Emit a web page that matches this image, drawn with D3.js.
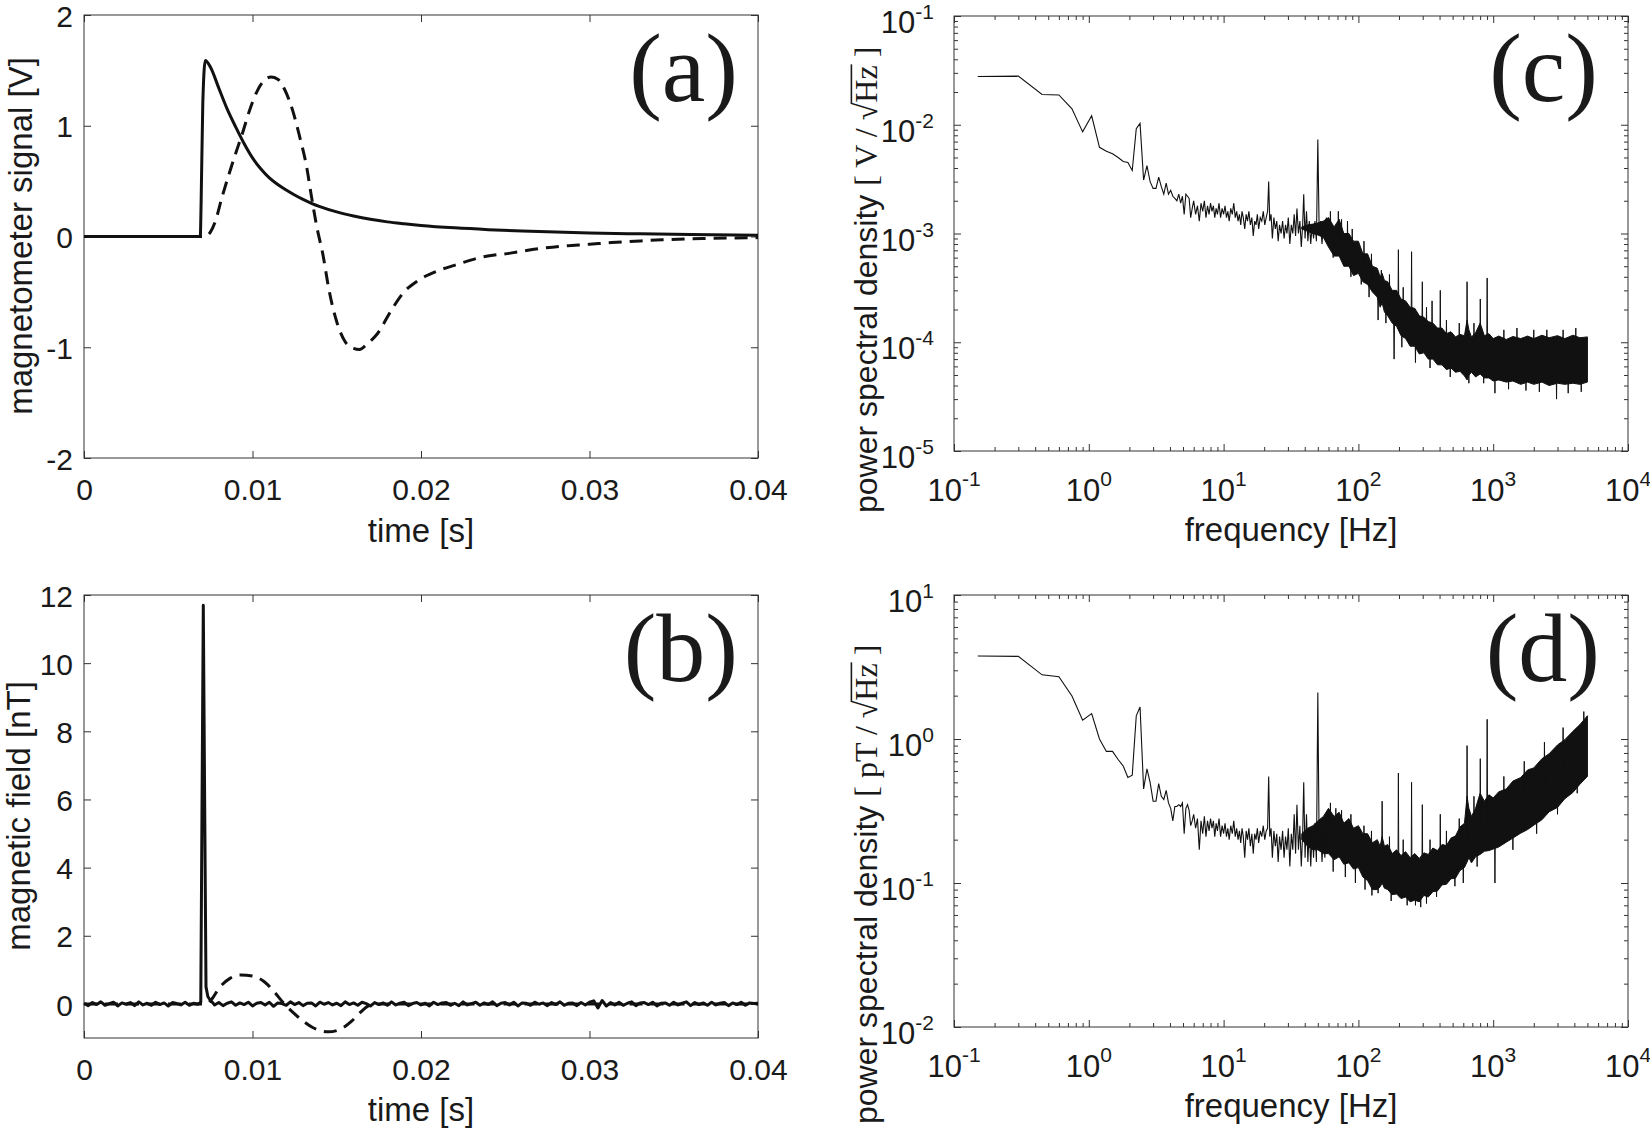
<!DOCTYPE html>
<html><head><meta charset="utf-8">
<script src="https://cdn.jsdelivr.net/npm/d3@7"></script>
<style>body{margin:0;background:#fff}</style>
</head><body>
<svg id="fig" width="1650" height="1132" xmlns="http://www.w3.org/2000/svg"></svg>
<script>
// ---------------- DATA ----------------
// Panel (a): magnetometer signal [V] vs time (ms)
const aTimeMs = [0,6.9,6.95,7.05,7.2,7.5,8.0,8.5,9.0,9.5,10.0,10.5,11.0,11.5,12.0,12.5,13.0,13.5,14,15,16,17,18,19,20,22,24,26,28,30,33,36,40];
const aSolid  = [0,0,0.3,1.2,1.59,1.53,1.34,1.15,0.99,0.84,0.71,0.61,0.53,0.47,0.42,0.375,0.335,0.30,0.27,0.222,0.185,0.155,0.132,0.115,0.1,0.078,0.062,0.05,0.04,0.032,0.024,0.017,0.011];
const aDashTimeMs = [0,7.2,7.5,7.8,8.2,8.6,9.0,9.4,9.85,10.3,10.7,11.1,11.5,11.9,12.4,12.8,13.2,13.5,13.8,14.2,14.5,15.0,15.5,16.0,16.35,16.8,17.4,18.3,19.0,19.8,21,22.2,23.5,25.3,27,28.3,30,31.3,33,34.3,37,40];
const aDash = [0,0,0.04,0.14,0.36,0.56,0.75,0.93,1.15,1.32,1.41,1.44,1.42,1.33,1.13,0.9,0.64,0.36,0.1,-0.18,-0.45,-0.77,-0.95,-1.01,-1.02,-0.97,-0.88,-0.65,-0.5,-0.4,-0.31,-0.25,-0.19,-0.15,-0.11,-0.088,-0.07,-0.055,-0.04,-0.03,-0.018,-0.01];

// Panel (b): magnetic field [nT] vs time (ms)
const bTimeMs = [0,0.25,0.5,0.75,1,1.25,1.5,1.75,2,2.25,2.5,2.75,3,3.25,3.5,3.75,4,4.25,4.5,4.75,5,5.25,5.5,5.75,6,6.25,6.5,6.75,
 6.93,7.0,7.08,7.16,7.24,7.35,7.5,7.65,
 7.75,8,8.25,8.5,8.75,9,9.25,9.5,9.75,10,10.25,10.5,10.75,11,11.25,11.5,11.75,12,12.25,12.5,12.75,13,13.25,13.5,13.75,14,14.25,14.5,14.75,15,15.25,15.5,15.75,16,16.25,16.5,16.75,17,17.25,17.5,17.75,18,18.25,18.5,18.75,19,19.25,19.5,19.75,20,20.25,20.5,20.75,21,21.25,21.5,21.75,22,22.25,22.5,22.75,23,23.25,23.5,23.75,24,24.25,24.5,24.75,25,25.25,25.5,25.75,26,26.25,26.5,26.75,27,27.25,27.5,27.75,28,28.25,28.5,28.75,29,29.25,29.5,29.75,30,30.25,30.5,30.75,31,31.25,31.5,31.75,32,32.25,32.5,32.75,33,33.25,33.5,33.75,34,34.25,34.5,34.75,35,35.25,35.5,35.75,36,36.25,36.5,36.75,37,37.25,37.5,37.75,38,38.25,38.5,38.75,39,39.25,39.5,39.75,40];
const bSolid = [0.02,-0.05,0.04,-0.02,0.06,-0.04,0.01,0.05,-0.06,0.03,-0.01,0.04,-0.05,0.06,-0.03,0.02,-0.04,0.05,-0.02,0.03,-0.06,0.04,0.01,-0.03,0.05,-0.04,0.02,-0.01,
 0.05,5.5,11.7,6.0,0.5,0.22,0.1,0.03,
 -0.03,0.04,-0.05,0.02,0.06,-0.04,0.03,-0.02,0.05,-0.06,
 0.02,0.04,-0.03,0.05,-0.07,0.03,0.01,-0.04,0.06,-0.02,
 0.04,-0.05,0.02,0.03,-0.06,0.05,-0.01,0.04,-0.03,0.02,
 -0.05,0.06,-0.02,0.03,-0.04,0.05,0.01,-0.06,0.04,-0.02,
 0.03,-0.04,0.06,-0.03,0.02,0.05,-0.05,0.01,0.04,-0.03,
 0.02,-0.06,0.05,-0.02,0.03,0.04,-0.04,0.02,-0.05,0.06,
 -0.03,0.01,0.05,-0.04,0.03,-0.02,0.06,-0.05,0.02,0.04,
 -0.03,0.05,-0.06,0.03,0.02,-0.04,0.05,-0.01,0.03,-0.05,
 0.04,-0.02,0.06,-0.04,0.02,0.03,-0.05,0.04,-0.03,0.05,
 0.09,-0.12,0.1,-0.06,0.04,-0.03,0.05,-0.04,0.02,0.06,
 -0.05,0.03,0.04,-0.02,0.05,-0.06,0.02,0.03,-0.04,0.05,
 -0.03,0.02,0.06,-0.05,0.04,-0.02,0.03,-0.04,0.05,-0.03,
 0.02,0.04,-0.05,0.03,-0.02,0.05,-0.04,0.03,0.01,0.02];
const bDashTimeMs = [0,7.3,7.6,8.0,8.66,9.3,10.0,10.7,11.3,11.8,12.4,13.0,13.6,14.5,15.3,15.9,16.4,16.9,17.3,40];
const bDash = [0,0,0.15,0.45,0.75,0.85,0.82,0.65,0.35,0.05,-0.25,-0.5,-0.7,-0.82,-0.72,-0.5,-0.25,-0.05,0,0];

// Panels (c),(d): spectra. Low-frequency bins (Hz)
const specLowFreq = [0.15,0.3,0.45,0.6,0.75,0.9,1.05,1.2,1.35,1.5,1.65,1.8,1.95,2.1,2.25,2.4,2.55,2.7,2.85,3.0,3.15,3.3,3.45,3.6,3.75,3.9,4.05,4.2,4.35,4.5,4.65,4.8,4.95,5.1,5.25,5.4,5.55,5.7,5.85];
const cLowVal = [0.0278,0.028,0.019,0.0188,0.014,0.0086,0.0121,0.0062,0.0057,0.0054,0.005,0.0046,0.0045,0.0038,0.0092,0.0103,0.0031,0.0042,0.003,0.0026,0.0026,0.0033,0.0027,0.0023,0.0029,0.0023,0.0025,0.0022,0.0021,0.002,0.0023,0.0019,0.0022,0.0015,0.0023,0.0022,0.0021,0.0014,0.0017];
const dLowVal = [3.77,3.75,2.79,2.71,1.99,1.35,1.5,1.0,0.82,0.82,0.72,0.65,0.54,0.56,1.45,1.67,0.45,0.62,0.5,0.37,0.37,0.49,0.4,0.38,0.44,0.36,0.33,0.27,0.34,0.34,0.35,0.34,0.36,0.22,0.33,0.35,0.32,0.25,0.27];
// Mid-frequency samples (Hz)
const specMidFreq = [6.0,6.2,6.4,6.6,6.8,7.0,7.2,7.4,7.6,7.8,8.0,8.2,8.4,8.6,8.8,9.0,9.25,9.5,9.75,10.0,10.25,10.5,10.75,11.0,11.3,11.6,11.9,12.2,12.5,12.8,13.1,13.4,13.7,14.0,14.35,14.7,15.05,15.4,15.8,16.2,16.6,17.0,17.4,17.8,18.2,18.7,19.2,19.7,20.2,20.7,21.2,21.6,22.0,22.5,23.0,23.6,24.2,24.8,25.4,26.0,26.7,27.4,28.1,28.8,29.5,30.2,31.0,31.8,32.6,33.4,34.2,35.0,35.9,36.8,37.7,38.6,39.3,40.2,41.2,42.2,43.2,44.3,45.4,46.5,47.6,48.8,50.0,51.2,52.4,53.7,55.0,56.4,57.8,59.2,60.6];
const cMidVal = [2.0e-3,1.5e-3,1.8e-3,1.3e-3,1.9e-3,1.6e-3,2.0e-3,1.4e-3,1.8e-3,1.5e-3,
 1.9e-3,1.6e-3,1.8e-3,1.4e-3,1.7e-3,1.5e-3,1.9e-3,1.4e-3,1.7e-3,1.5e-3,
 1.8e-3,1.4e-3,1.6e-3,1.3e-3,1.7e-3,1.5e-3,1.9e-3,1.4e-3,1.6e-3,1.3e-3,
 1.5e-3,1.2e-3,1.6e-3,1.4e-3,1.1e-3,1.5e-3,1.3e-3,1.6e-3,1.2e-3,1.4e-3,
 0.95e-3,1.3e-3,1.2e-3,1.5e-3,1.1e-3,1.4e-3,1.3e-3,1.6e-3,1.2e-3,1.4e-3,
 1.6e-3,3.0e-3,1.3e-3,1.5e-3,0.9e-3,1.4e-3,1.1e-3,1.3e-3,0.85e-3,1.2e-3,
 1.0e-3,1.3e-3,0.9e-3,1.2e-3,1.0e-3,1.4e-3,0.8e-3,1.2e-3,1.0e-3,1.5e-3,
 0.95e-3,1.7e-3,1.0e-3,1.3e-3,0.75e-3,1.2e-3,2.3e-3,0.9e-3,1.6e-3,0.85e-3,
 1.3e-3,0.8e-3,1.2e-3,0.9e-3,1.3e-3,0.85e-3,7.3e-3,1.0e-3,1.3e-3,0.8e-3,
 1.2e-3,0.9e-3,1.4e-3,1.0e-3,1.3e-3];
const dMidVal = [0.30,0.24,0.28,0.17,0.27,0.22,0.29,0.21,0.27,0.23,
 0.28,0.24,0.27,0.21,0.26,0.23,0.28,0.21,0.25,0.22,
 0.26,0.21,0.24,0.20,0.25,0.22,0.27,0.21,0.24,0.20,
 0.23,0.19,0.24,0.21,0.15,0.23,0.20,0.24,0.18,0.22,
 0.16,0.22,0.20,0.24,0.19,0.23,0.21,0.25,0.20,0.23,
 0.24,0.55,0.21,0.24,0.15,0.23,0.18,0.22,0.14,0.21,
 0.17,0.23,0.15,0.21,0.17,0.24,0.13,0.22,0.17,0.30,
 0.16,0.35,0.17,0.25,0.13,0.22,0.50,0.15,0.30,0.14,
 0.24,0.13,0.23,0.15,0.26,0.14,2.10,0.17,0.26,0.14,
 0.22,0.15,0.28,0.16,0.27];
// High-frequency dense band: envelope (Hz)
const bandFreq = [38,42,46,50,55,60,66,72,78,85,92,100,108,117,127,138,145,150,156,165,178,192,207,224,242,262,283,306,330,357,386,417,450,486,525,567,612,640,660,690,740,800,860,930,1000,1100,1250,1400,1600,1800,2000,2300,2600,3000,3400,3900,4400,5000];
const cBandHi = [1.15e-3,1.2e-3,1.22e-3,1.25e-3,1.3e-3,
 14e-4,11.5e-4,13.5e-4,10e-4,10e-4,8.5e-4,8.5e-4,6.5e-4,6.5e-4,5e-4,
 4.8e-4,4.0e-4,4.3e-4,3.7e-4,3.6e-4,3.0e-4,3.0e-4,2.5e-4,2.4e-4,2.1e-4,
 2.05e-4,1.75e-4,1.7e-4,1.55e-4,1.5e-4,1.35e-4,1.35e-4,1.2e-4,1.25e-4,1.12e-4,
 1.18e-4,1.15e-4,1.6e-4,1.3e-4,1.12e-4,1.22e-4,1.5e-4,1.15e-4,1.2e-4,1.08e-4,
 1.14e-4,1.06e-4,1.13e-4,1.08e-4,1.14e-4,1.08e-4,1.16e-4,1.1e-4,1.15e-4,1.08e-4,
 1.16e-4,1.1e-4,1.12e-4];
const cBandLo = [1.1e-3,1.05e-3,1.0e-3,0.97e-3,0.92e-3,
 7.5e-4,6.2e-4,6.2e-4,5.0e-4,5.0e-4,4.1e-4,4.3e-4,3.6e-4,3.4e-4,2.9e-4,
 2.6e-4,2.1e-4,2.3e-4,1.9e-4,1.75e-4,1.5e-4,1.4e-4,1.15e-4,1.08e-4,0.92e-4,
 0.92e-4,0.78e-4,0.8e-4,0.7e-4,0.7e-4,0.62e-4,0.62e-4,0.56e-4,0.58e-4,0.53e-4,
 0.54e-4,0.49e-4,0.45e-4,0.5e-4,0.53e-4,0.48e-4,0.51e-4,0.47e-4,0.47e-4,0.44e-4,
 0.45e-4,0.43e-4,0.44e-4,0.41e-4,0.43e-4,0.41e-4,0.43e-4,0.4e-4,0.42e-4,0.41e-4,
 0.42e-4,0.41e-4,0.43e-4];
const dBandHi = [0.22,0.24,0.25,0.27,0.29,
 0.33,0.29,0.31,0.26,0.28,0.24,0.25,0.22,0.22,0.19,
 0.2,0.18,0.21,0.18,0.185,0.16,0.17,0.155,0.165,0.15,
 0.16,0.148,0.162,0.158,0.175,0.168,0.185,0.182,0.205,0.212,
 0.245,0.26,0.4,0.33,0.29,0.33,0.42,0.37,0.41,0.39,
 0.43,0.45,0.51,0.54,0.61,0.63,0.73,0.79,0.91,0.99,
 1.13,1.26,1.45];
const dBandLo = [0.2,0.18,0.17,0.17,0.16,
 0.16,0.145,0.152,0.135,0.138,0.125,0.128,0.11,0.104,0.09,
 0.09,0.094,0.1,0.092,0.09,0.083,0.084,0.078,0.08,0.074,
 0.076,0.074,0.082,0.08,0.087,0.088,0.097,0.098,0.107,0.108,
 0.122,0.128,0.14,0.15,0.138,0.152,0.158,0.166,0.168,0.172,
 0.178,0.192,0.205,0.222,0.235,0.252,0.275,0.312,0.335,0.385,
 0.425,0.485,0.55];
// Narrow spikes / dips leaving the band (freq, extreme value, value inside band)
const cSpikeFreq = [71,83,140,148,184,198,248,265,298,352,405,640,660,802,902,1030,1500,1750,2500,2950,4100,4500,
 62,65,75,88,90,105,110,120,125,160,170,210,215,320,340,450,480,560,720,850,1200,1300,2000,2200,3300,3600];
const cSpikeEnd  = [1.6e-3,1.3e-3,1.6e-4,4.6e-4,7e-5,7.1e-4,6.8e-4,6.5e-5,3.6e-4,2.4e-4,3.0e-4,3.6e-4,4.2e-5,2.5e-4,3.9e-4,3.4e-5,1.35e-4,3.6e-5,1.3e-4,3.0e-5,1.35e-4,3.5e-5,
 1.6e-3,6.0e-4,1.35e-3,4.0e-4,1.1e-3,3.4e-4,8.5e-4,2.6e-4,6.5e-4,1.5e-4,4.2e-4,9e-5,3.2e-4,2.1e-4,5.8e-5,1.6e-4,4.8e-5,1.5e-4,1.5e-4,4.2e-5,1.3e-4,3.7e-5,1.3e-4,3.5e-5,1.3e-4,3.4e-5];
const cSpikeBase = [9e-4,7e-4,3e-4,3e-4,1.5e-4,2e-4,1.6e-4,1.3e-4,1.2e-4,1.0e-4,9e-5,9e-5,8e-5,8e-5,8e-5,7e-5,7e-5,7e-5,7e-5,7e-5,7e-5,7e-5,
 1.0e-3,1.0e-3,8e-4,7e-4,6e-4,5.5e-4,5e-4,4.5e-4,4e-4,2.6e-4,2.4e-4,1.7e-4,1.6e-4,1.1e-4,1.0e-4,8e-5,8e-5,8e-5,8e-5,7e-5,7e-5,7e-5,7e-5,7e-5,7e-5,7e-5];
const dSpikeFreq = [140,150,198,248,265,298,320,405,640,802,902,1030,
 62,65,68,75,80,88,95,110,112,125,126,170,175,215,230,290,340,380,450,520,560,600,720,760,1200,1400,1700,2100,2400,3000,3300,4200,4700];
const dSpikeEnd  = [0.085,0.37,0.58,0.5,0.07,0.35,0.072,0.3,0.9,0.73,1.37,0.1,
 0.36,0.12,0.33,0.32,0.11,0.3,0.1,0.25,0.09,0.23,0.082,0.21,0.075,0.2,0.07,0.068,0.2,0.08,0.23,0.095,0.28,0.1,0.4,0.13,0.55,0.17,0.7,0.22,0.95,0.3,1.2,0.42,1.55];
const dSpikeBase = [0.12,0.15,0.12,0.11,0.1,0.11,0.11,0.13,0.2,0.25,0.25,0.25,
 0.22,0.22,0.2,0.2,0.19,0.18,0.17,0.15,0.15,0.14,0.14,0.12,0.12,0.11,0.11,0.11,0.12,0.12,0.14,0.15,0.16,0.17,0.2,0.2,0.3,0.3,0.35,0.35,0.5,0.5,0.6,0.7,0.9];

// Tick labels
const timeTicks = [0,0.01,0.02,0.03,0.04];
const timeTickLabels = ['0','0.01','0.02','0.03','0.04'];
const aYTicks = [-2,-1,0,1,2];
const aYTickLabels = ['-2','-1','0','1','2'];
const bYTicks = [0,2,4,6,8,10,12];
const bYTickLabels = ['0','2','4','6','8','10','12'];
const freqMajor = [0.1,1,10,100,1000,10000];
const freqExp = ['-1','0','1','2','3','4'];
const cYMajor = [1e-5,1e-4,1e-3,1e-2,1e-1];
const cYExp = ['-5','-4','-3','-2','-1'];
const dYMajor = [1e-2,1e-1,1,10];
const dYExp = ['-2','-1','0','1'];

// ---------------- DRAWING ----------------
const SANS = "'Liberation Sans', Arial, Helvetica, sans-serif";
const SERIF = "'Liberation Serif', 'Times New Roman', Times, serif";
const INK = '#111';
const TXT = '#1a1a1a';
const AX = '#333';
const svg = d3.select('#fig');
svg.append('rect').attr('width',1650).attr('height',1132).attr('fill','#fff');

function cleanAxis(g){
  g.select('.domain').remove();
  g.selectAll('.tick line').attr('stroke', AX).attr('stroke-width',1);
  g.selectAll('text').style('font-family',SANS).style('font-size','30px').attr('fill',TXT);
}
function frame(x,y){
  const [x0,x1] = x.range(); const [y1,y0] = y.range();
  svg.append('rect').attr('x',x0).attr('y',y0).attr('width',x1-x0).attr('height',y1-y0)
    .attr('fill','none').attr('stroke',AX).attr('stroke-width',1);
}
function linearAxes(x,y,xt,xl,yt,yl){
  const [x0,x1] = x.range(); const [y1,y0] = y.range();
  svg.append('g').attr('transform',`translate(0,${y1})`)
    .call(d3.axisBottom(x).tickValues(xt).tickFormat((d,i)=>xl[i]).tickSize(-7).tickPadding(21)).call(cleanAxis);
  svg.append('g').attr('transform',`translate(0,${y0})`)
    .call(d3.axisTop(x).tickValues(xt).tickFormat('').tickSize(-7)).call(cleanAxis);
  svg.append('g').attr('transform',`translate(${x0},0)`)
    .call(d3.axisLeft(y).tickValues(yt).tickFormat((d,i)=>yl[i]).tickSize(-7).tickPadding(11)).call(cleanAxis)
    .call(g=>g.selectAll('text').attr('dy','0.37em'));
  svg.append('g').attr('transform',`translate(${x1},0)`)
    .call(d3.axisRight(y).tickValues(yt).tickFormat('').tickSize(-7)).call(cleanAxis);
  frame(x,y);
}
function isMajor(v, majors){ return majors.some(m => Math.abs(v-m)/m < 1e-6); }
function logAxes(x,y,xMaj,xExp,yMaj,yExp){
  const [x0,x1] = x.range(); const [y1,y0] = y.range();
  const xMin = x.ticks().filter(v=>!isMajor(v,xMaj));
  const yMin = y.ticks().filter(v=>!isMajor(v,yMaj));
  const defs = [
    [d3.axisBottom, x, `translate(0,${y1})`],
    [d3.axisTop, x, `translate(0,${y0})`],
    [d3.axisLeft, y, `translate(${x0},0)`],
    [d3.axisRight, y, `translate(${x1},0)`]
  ];
  defs.forEach(([fn,sc,tr])=>{
    const maj = sc===x ? xMaj : yMaj, mn = sc===x ? xMin : yMin;
    svg.append('g').attr('transform',tr).call(fn(sc).tickValues(maj).tickFormat('').tickSize(-7)).call(cleanAxis);
    svg.append('g').attr('transform',tr).call(fn(sc).tickValues(mn).tickFormat('').tickSize(-4)).call(cleanAxis);
  });
  xMaj.forEach((v,i)=>{
    const t = svg.append('text').attr('x',x(v)).attr('y',y1+50).attr('text-anchor','middle')
      .attr('fill',TXT).style('font-family',SANS).style('font-size','31px');
    t.append('tspan').text('10');
    t.append('tspan').attr('dy',-15).style('font-size','21px').text(xExp[i]);
  });
  yMaj.forEach((v,i)=>{
    const t = svg.append('text').attr('x',x0-20).attr('y',y(v)+17).attr('text-anchor','end')
      .attr('fill',TXT).style('font-family',SANS).style('font-size','31px');
    t.append('tspan').text('10');
    t.append('tspan').attr('dy',-14).style('font-size','21px').text(yExp[i]);
  });
  frame(x,y);
}
function axisLabel(text,x,y,rot){
  svg.append('text').attr('transform',`translate(${x},${y})${rot?' rotate(-90)':''}`)
    .attr('text-anchor','middle').attr('fill',TXT).style('font-family',SANS).style('font-size','33px').text(text);
}
function panelTag(text,x,y){
  svg.append('text').attr('x',x).attr('y',y).attr('text-anchor','end').attr('fill',TXT)
    .style('font-family',SERIF).style('font-size','98px').text(text);
}
function psdLabel(cx,bottomY,unit){
  const g = svg.append('g').attr('transform',`translate(${cx},${bottomY}) rotate(-90)`);
  const t = g.append('text').attr('x',0).attr('y',0).attr('fill',TXT);
  const s1 = 'power spectral density ', s2 = '[ '+unit+' / \u221A';
  t.append('tspan').style('font-family',SANS).style('font-size','32px').text(s1);
  t.append('tspan').style('font-family',SERIF).style('font-size','32px').text(s2);
  t.append('tspan').style('font-family',SERIF).style('font-size','32px').text('Hz');
  t.append('tspan').style('font-family',SERIF).style('font-size','32px').text(' ]');
  const node = t.node();
  const iR = s1.length + s2.length - 1, iZ = iR + 2;
  try {
    const eR = node.getExtentOfChar(iR), eZ = node.getExtentOfChar(iZ);
    g.append('line').attr('x1',eR.x+eR.width*0.92).attr('x2',eZ.x+eZ.width+1)
      .attr('y1',-0.80*32).attr('y2',-0.80*32).attr('stroke',TXT).attr('stroke-width',1.6);
  } catch(e) {}
}

// ----- Panel (a)
const xa = d3.scaleLinear().domain([0,0.04]).range([84,758]);
const ya = d3.scaleLinear().domain([-2,2]).range([458,15]);
linearAxes(xa,ya,timeTicks,timeTickLabels,aYTicks,aYTickLabels);
const lineA = d3.line().x(d=>xa(d[0]/1000)).y(d=>ya(d[1])).curve(d3.curveMonotoneX);
svg.append('path').attr('d',lineA(d3.zip(aDashTimeMs,aDash))).attr('fill','none').attr('stroke',INK)
  .attr('stroke-width',3).attr('stroke-dasharray','13,8');
svg.append('path').attr('d',lineA(d3.zip(aTimeMs,aSolid))).attr('fill','none').attr('stroke',INK)
  .attr('stroke-width',3).attr('stroke-linejoin','round');
axisLabel('time [s]', 421, 542, false);
axisLabel('magnetometer signal [V]', 32, 236, true);
panelTag('(a)', 738, 101);

// ----- Panel (b)
const xb = d3.scaleLinear().domain([0,0.04]).range([84,758]);
const yb = d3.scaleLinear().domain([-1,12]).range([1038,595]);
linearAxes(xb,yb,timeTicks,timeTickLabels,bYTicks,bYTickLabels);
const lineB = d3.line().x(d=>xb(d[0]/1000)).y(d=>yb(d[1]));
svg.append('path').attr('d',lineB.curve(d3.curveMonotoneX)(d3.zip(bDashTimeMs,bDash))).attr('fill','none').attr('stroke',INK)
  .attr('stroke-width',3).attr('stroke-dasharray','13,8');
svg.append('path').attr('d',lineB.curve(d3.curveLinear)(d3.zip(bTimeMs,bSolid))).attr('fill','none').attr('stroke',INK)
  .attr('stroke-width',3).attr('stroke-linejoin','round');
axisLabel('time [s]', 421, 1121, false);
axisLabel('magnetic field [nT]', 30, 816, true);
panelTag('(b)', 738, 681);

// ----- Spectrum panels
function spectrum(x,y,lowVal,midVal,bandLo,bandHi,spF,spE,spB){
  const pts = d3.zip(specLowFreq.concat(specMidFreq), lowVal.concat(midVal));
  const ln = d3.line().x(d=>x(d[0])).y(d=>y(d[1]));
  const area = d3.area().x(d=>x(d[0])).y0(d=>y(d[1])).y1(d=>y(d[2]));
  svg.append('path').attr('d',area(d3.zip(bandFreq,bandLo,bandHi))).attr('fill',INK)
    .attr('stroke',INK).attr('stroke-width',1).attr('stroke-linejoin','bevel');
  svg.append('path').attr('d',ln(pts)).attr('fill','none').attr('stroke',INK).attr('stroke-width',1.1);
  const sp = d3.zip(spF,spE,spB).map(([f,e,b])=>`M${x(f*0.993)},${y(b)}L${x(f)},${y(e)}L${x(f*1.007)},${y(b)}`).join('');
  svg.append('path').attr('d',sp).attr('fill','none').attr('stroke',INK).attr('stroke-width',1);
}
const xc = d3.scaleLog().domain([0.1,1e4]).range([954,1628]);
const yc = d3.scaleLog().domain([1e-5,1e-1]).range([451,16]);
logAxes(xc,yc,freqMajor,freqExp,cYMajor,cYExp);
spectrum(xc,yc,cLowVal,cMidVal,cBandLo,cBandHi,cSpikeFreq,cSpikeEnd,cSpikeBase);
axisLabel('frequency [Hz]', 1291, 541, false);
psdLabel(877, 513, 'V');
panelTag('(c)', 1598, 101);

const xd = d3.scaleLog().domain([0.1,1e4]).range([954,1628]);
const yd = d3.scaleLog().domain([1e-2,1e1]).range([1027,595]);
logAxes(xd,yd,freqMajor,freqExp,dYMajor,dYExp);
spectrum(xd,yd,dLowVal,dMidVal,dBandLo,dBandHi,dSpikeFreq,dSpikeEnd,dSpikeBase);
axisLabel('frequency [Hz]', 1291, 1117, false);
psdLabel(877, 1124, 'pT');
panelTag('(d)', 1600, 681);
</script>
</body></html>
